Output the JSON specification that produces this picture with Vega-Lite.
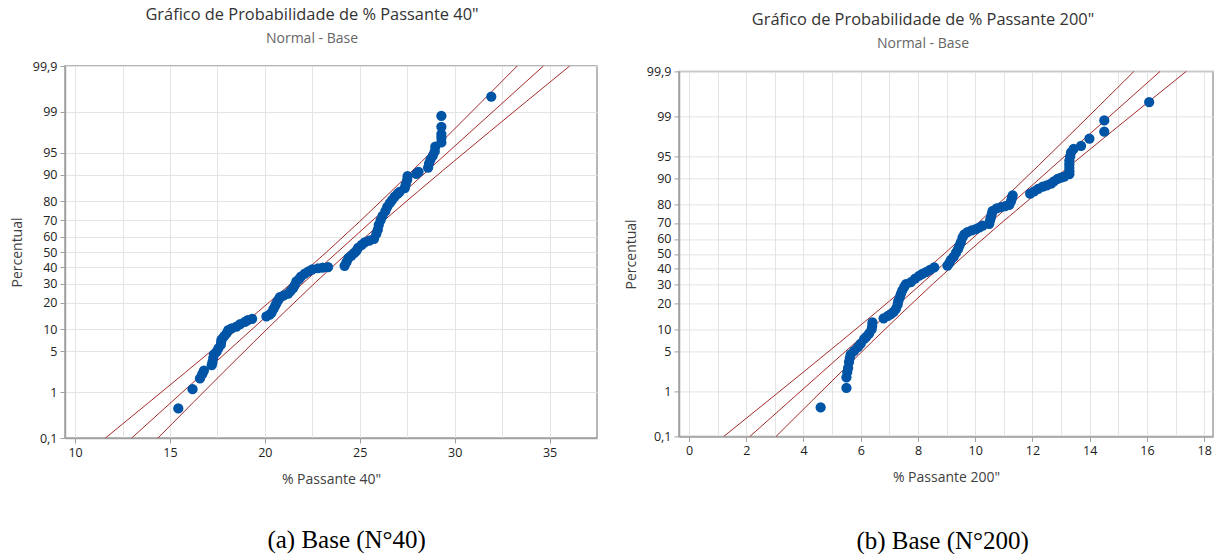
{
  "$schema": "https://vega.github.io/schema/vega-lite/v6.json",
  "background": "white",
  "padding": {"left": 9, "top": 0, "right": 0, "bottom": 0},
  "spacing": 25,
  "config": {
    "view": {"stroke": "#a0a0a0", "strokeWidth": 1.5},
    "font": "Open Sans",
    "title": {"font": "Open Sans", "fontSize": 16.4, "fontWeight": "normal", "color": "#333333", "subtitleFont": "Open Sans", "subtitleFontSize": 14, "subtitleColor": "#666666", "subtitlePadding": 9, "offset": 14},
    "axis": {"gridColor": "#e4e4e4", "gridWidth": 1, "domainColor": "#a0a0a0", "domainWidth": 1.5, "tickColor": "#a0a0a0", "tickSize": 5, "labelPadding": 3, "labelFont": "Open Sans", "labelFontSize": 12.5, "labelColor": "#222222", "titleFont": "Open Sans", "titleFontSize": 14, "titleFontWeight": "normal", "titleColor": "#404040", "labelOverlap": false, "labelSeparation": 0, "labelFlush": false, "labelBound": false},
    "axisY": {"labelOverlap": false},
    "axisQuantitative": {"labelOverlap": false}
  },
  "datasets": {
    "left_pts": [
      {"x": 15.44, "z": -2.6}, {"x": 16.19, "z": -2.28}, {"x": 16.58, "z": -2.1}, {"x": 16.7, "z": -2.03}, {"x": 16.79, "z": -1.97},
      {"x": 17.2, "z": -1.88}, {"x": 17.24, "z": -1.83}, {"x": 17.28, "z": -1.76}, {"x": 17.32, "z": -1.7}, {"x": 17.45, "z": -1.66},
      {"x": 17.55, "z": -1.6}, {"x": 17.68, "z": -1.54}, {"x": 17.7, "z": -1.49}, {"x": 17.72, "z": -1.45}, {"x": 17.85, "z": -1.4},
      {"x": 17.98, "z": -1.35}, {"x": 18.07, "z": -1.3}, {"x": 18.25, "z": -1.27}, {"x": 18.5, "z": -1.24}, {"x": 18.7, "z": -1.2},
      {"x": 18.95, "z": -1.16}, {"x": 19.1, "z": -1.13}, {"x": 19.33, "z": -1.11}, {"x": 20.08, "z": -1.07}, {"x": 20.25, "z": -1.04},
      {"x": 20.35, "z": -1.01}, {"x": 20.45, "z": -0.95}, {"x": 20.55, "z": -0.89}, {"x": 20.61, "z": -0.85}, {"x": 20.7, "z": -0.8},
      {"x": 20.79, "z": -0.75}, {"x": 21.0, "z": -0.72}, {"x": 21.23, "z": -0.69}, {"x": 21.35, "z": -0.65}, {"x": 21.49, "z": -0.6},
      {"x": 21.58, "z": -0.55}, {"x": 21.66, "z": -0.49}, {"x": 21.8, "z": -0.45}, {"x": 21.9, "z": -0.41}, {"x": 22.1, "z": -0.36},
      {"x": 22.3, "z": -0.32}, {"x": 22.5, "z": -0.29}, {"x": 22.8, "z": -0.27}, {"x": 23.05, "z": -0.26}, {"x": 23.33, "z": -0.25},
      {"x": 24.2, "z": -0.23}, {"x": 24.3, "z": -0.17}, {"x": 24.4, "z": -0.1}, {"x": 24.56, "z": -0.06}, {"x": 24.7, "z": -0.02},
      {"x": 24.82, "z": 0.02}, {"x": 24.91, "z": 0.07}, {"x": 25.1, "z": 0.12}, {"x": 25.26, "z": 0.16}, {"x": 25.5, "z": 0.19},
      {"x": 25.75, "z": 0.22}, {"x": 25.87, "z": 0.3}, {"x": 25.95, "z": 0.37}, {"x": 26.0, "z": 0.45}, {"x": 26.1, "z": 0.53},
      {"x": 26.2, "z": 0.6}, {"x": 26.35, "z": 0.68}, {"x": 26.45, "z": 0.75}, {"x": 26.58, "z": 0.81}, {"x": 26.7, "z": 0.86},
      {"x": 26.84, "z": 0.92}, {"x": 27.0, "z": 0.97}, {"x": 27.1, "z": 1.0}, {"x": 27.37, "z": 1.06}, {"x": 27.42, "z": 1.12},
      {"x": 27.5, "z": 1.2}, {"x": 27.52, "z": 1.26}, {"x": 27.98, "z": 1.3}, {"x": 28.1, "z": 1.33}, {"x": 28.6, "z": 1.4},
      {"x": 28.65, "z": 1.47}, {"x": 28.72, "z": 1.53}, {"x": 28.85, "z": 1.6}, {"x": 28.95, "z": 1.67}, {"x": 28.98, "z": 1.75},
      {"x": 29.3, "z": 1.82}, {"x": 29.3, "z": 1.9}, {"x": 29.3, "z": 1.96}, {"x": 29.3, "z": 2.08}, {"x": 29.3, "z": 2.26},
      {"x": 31.93, "z": 2.58}
    ],
    "left_lines": [
      {"line": "lower", "x": 11.602, "z": -3.0902}, {"line": "lower", "x": 13.886, "z": -2.5}, {"line": "lower", "x": 15.813, "z": -2}, {"line": "lower", "x": 17.726, "z": -1.5}, {"line": "lower", "x": 19.615, "z": -1}, {"line": "lower", "x": 21.465, "z": -0.5}, {"line": "lower", "x": 23.255, "z": 0}, {"line": "lower", "x": 24.975, "z": 0.5}, {"line": "lower", "x": 26.635, "z": 1}, {"line": "lower", "x": 28.256, "z": 1.5}, {"line": "lower", "x": 29.853, "z": 2}, {"line": "lower", "x": 31.436, "z": 2.5}, {"line": "lower", "x": 33.294, "z": 3.0902},
      {"line": "fit", "x": 12.984, "z": -3.0902}, {"line": "fit", "x": 23.83, "z": 0}, {"line": "fit", "x": 34.676, "z": 3.0902},
      {"line": "upper", "x": 14.366, "z": -3.0902}, {"line": "upper", "x": 16.224, "z": -2.5}, {"line": "upper", "x": 17.807, "z": -2}, {"line": "upper", "x": 19.404, "z": -1.5}, {"line": "upper", "x": 21.025, "z": -1}, {"line": "upper", "x": 22.685, "z": -0.5}, {"line": "upper", "x": 24.405, "z": 0}, {"line": "upper", "x": 26.195, "z": 0.5}, {"line": "upper", "x": 28.045, "z": 1}, {"line": "upper", "x": 29.934, "z": 1.5}, {"line": "upper", "x": 31.847, "z": 2}, {"line": "upper", "x": 33.774, "z": 2.5}, {"line": "upper", "x": 36.058, "z": 3.0902}
    ],
    "right_pts": [
      {"x": 4.6, "z": -2.6}, {"x": 5.5, "z": -2.27}, {"x": 5.5, "z": -2.09}, {"x": 5.53, "z": -2.0}, {"x": 5.56, "z": -1.93},
      {"x": 5.59, "z": -1.83}, {"x": 5.62, "z": -1.76}, {"x": 5.65, "z": -1.7}, {"x": 5.77, "z": -1.64}, {"x": 5.9, "z": -1.58},
      {"x": 6.0, "z": -1.52}, {"x": 6.12, "z": -1.44}, {"x": 6.2, "z": -1.4}, {"x": 6.29, "z": -1.35}, {"x": 6.38, "z": -1.28},
      {"x": 6.4, "z": -1.22}, {"x": 6.41, "z": -1.16}, {"x": 6.8, "z": -1.09}, {"x": 6.95, "z": -1.05}, {"x": 7.05, "z": -1.02},
      {"x": 7.15, "z": -0.98}, {"x": 7.23, "z": -0.93}, {"x": 7.29, "z": -0.86}, {"x": 7.31, "z": -0.8}, {"x": 7.36, "z": -0.74},
      {"x": 7.4, "z": -0.68}, {"x": 7.45, "z": -0.62}, {"x": 7.52, "z": -0.56}, {"x": 7.58, "z": -0.51}, {"x": 7.75, "z": -0.48},
      {"x": 7.9, "z": -0.42}, {"x": 8.04, "z": -0.37}, {"x": 8.15, "z": -0.34}, {"x": 8.28, "z": -0.31}, {"x": 8.42, "z": -0.27},
      {"x": 8.57, "z": -0.23}, {"x": 9.03, "z": -0.2}, {"x": 9.1, "z": -0.15}, {"x": 9.15, "z": -0.1}, {"x": 9.25, "z": -0.05},
      {"x": 9.33, "z": 0.02}, {"x": 9.4, "z": 0.08}, {"x": 9.45, "z": 0.14}, {"x": 9.5, "z": 0.2}, {"x": 9.56, "z": 0.28},
      {"x": 9.62, "z": 0.33}, {"x": 9.73, "z": 0.37}, {"x": 9.88, "z": 0.4}, {"x": 10.02, "z": 0.42}, {"x": 10.15, "z": 0.45},
      {"x": 10.26, "z": 0.48}, {"x": 10.49, "z": 0.51}, {"x": 10.52, "z": 0.57}, {"x": 10.55, "z": 0.62}, {"x": 10.58, "z": 0.68},
      {"x": 10.61, "z": 0.73}, {"x": 10.75, "z": 0.77}, {"x": 10.9, "z": 0.79}, {"x": 11.05, "z": 0.81}, {"x": 11.19, "z": 0.83},
      {"x": 11.25, "z": 0.89}, {"x": 11.28, "z": 0.94}, {"x": 11.31, "z": 0.99}, {"x": 11.92, "z": 1.02}, {"x": 12.06, "z": 1.06},
      {"x": 12.2, "z": 1.1}, {"x": 12.36, "z": 1.14}, {"x": 12.5, "z": 1.16}, {"x": 12.65, "z": 1.19}, {"x": 12.75, "z": 1.23},
      {"x": 12.88, "z": 1.27}, {"x": 13.0, "z": 1.29}, {"x": 13.11, "z": 1.31}, {"x": 13.29, "z": 1.35}, {"x": 13.29, "z": 1.4},
      {"x": 13.29, "z": 1.46}, {"x": 13.29, "z": 1.52}, {"x": 13.29, "z": 1.58}, {"x": 13.32, "z": 1.65}, {"x": 13.35, "z": 1.72},
      {"x": 13.44, "z": 1.78}, {"x": 13.7, "z": 1.83}, {"x": 13.99, "z": 1.95}, {"x": 14.51, "z": 2.07}, {"x": 14.51, "z": 2.26},
      {"x": 16.08, "z": 2.57}
    ],
    "right_lines": [
      {"line": "lower", "x": 1.216, "z": -3.0902}, {"line": "lower", "x": 2.726, "z": -2.5}, {"line": "lower", "x": 3.999, "z": -2}, {"line": "lower", "x": 5.263, "z": -1.5}, {"line": "lower", "x": 6.511, "z": -1}, {"line": "lower", "x": 7.733, "z": -0.5}, {"line": "lower", "x": 8.915, "z": 0}, {"line": "lower", "x": 10.052, "z": 0.5}, {"line": "lower", "x": 11.149, "z": 1}, {"line": "lower", "x": 12.22, "z": 1.5}, {"line": "lower", "x": 13.275, "z": 2}, {"line": "lower", "x": 14.321, "z": 2.5}, {"line": "lower", "x": 15.548, "z": 3.0902},
      {"line": "fit", "x": 2.129, "z": -3.0902}, {"line": "fit", "x": 9.295, "z": 0}, {"line": "fit", "x": 16.461, "z": 3.0902},
      {"line": "upper", "x": 3.042, "z": -3.0902}, {"line": "upper", "x": 4.27, "z": -2.5}, {"line": "upper", "x": 5.315, "z": -2}, {"line": "upper", "x": 6.37, "z": -1.5}, {"line": "upper", "x": 7.442, "z": -1}, {"line": "upper", "x": 8.539, "z": -0.5}, {"line": "upper", "x": 9.675, "z": 0}, {"line": "upper", "x": 10.858, "z": 0.5}, {"line": "upper", "x": 12.08, "z": 1}, {"line": "upper", "x": 13.328, "z": 1.5}, {"line": "upper", "x": 14.591, "z": 2}, {"line": "upper", "x": 15.865, "z": 2.5}, {"line": "upper", "x": 17.374, "z": 3.0902}
    ]
  },
  "hconcat": [
    {
      "title": {"text": "(a) Base (N°40)", "orient": "bottom", "anchor": "middle", "font": "Liberation Serif", "fontSize": 25, "fontWeight": "normal", "color": "#000000", "offset": 41, "dx": 43},
      "spacing": -2,
      "vconcat": [
        {
          "data": {"values": [{"a": 0}]},
          "mark": {"type": "point", "opacity": 0},
          "width": 532,
          "height": 1,
          "view": {"stroke": null}
        },
        {
          "width": 532,
          "height": 372,
          "title": {"text": "Gráfico de Probabilidade de % Passante 40\"", "subtitle": "Normal - Base", "dx": -19},
          "layer": [
            {
              "data": {"name": "left_lines"},
              "mark": {"type": "line", "color": "#a52a2a", "strokeWidth": 1},
              "encoding": {
                "x": {"field": "x", "type": "quantitative", "scale": {"domain": [9.47, 37.5], "nice": false, "zero": false},
                  "axis": {"title": "% Passante 40\"", "values": [10, 12.5, 15, 17.5, 20, 22.5, 25, 27.5, 30, 32.5, 35], "labelExpr": "datum.value % 5 === 0 ? datum.label : ''", "tickOpacity": {"condition": {"test": "datum.value % 5 === 0", "value": 1}, "value": 0}, "labelOverlap": false, "titlePadding": 14}},
                "y": {"field": "z", "type": "quantitative", "scale": {"domain": [-3.0902, 3.0902], "nice": false, "zero": false},
                  "axis": {"title": "Percentual", "values": [-3.0902, -2.3263, -1.6449, -1.2816, -0.8416, -0.5244, -0.2533, 0, 0.2533, 0.5244, 0.8416, 1.2816, 1.6449, 2.3263, 3.0902], "labelExpr": "datum.value < -3 ? '0,1' : datum.value < -2 ? '1' : datum.value < -1.5 ? '5' : datum.value < -1 ? '10' : datum.value < -0.7 ? '20' : datum.value < -0.4 ? '30' : datum.value < -0.1 ? '40' : datum.value < 0.1 ? '50' : datum.value < 0.4 ? '60' : datum.value < 0.7 ? '70' : datum.value < 1 ? '80' : datum.value < 1.5 ? '90' : datum.value < 2 ? '95' : datum.value < 3 ? '99' : '99,9'", "labelOverlap": false, "titlePadding": 8}},
                "detail": {"field": "line", "type": "nominal"}
              }
            },
            {
              "data": {"name": "left_pts"},
              "mark": {"type": "circle", "size": 105, "color": "#0054a6", "opacity": 1},
              "encoding": {
                "x": {"field": "x", "type": "quantitative", "scale": {"domain": [9.47, 37.5], "nice": false, "zero": false},
                  "axis": {"title": "% Passante 40\"", "values": [10, 12.5, 15, 17.5, 20, 22.5, 25, 27.5, 30, 32.5, 35], "labelExpr": "datum.value % 5 === 0 ? datum.label : ''", "tickOpacity": {"condition": {"test": "datum.value % 5 === 0", "value": 1}, "value": 0}, "labelOverlap": false, "titlePadding": 14}},
                "y": {"field": "z", "type": "quantitative", "scale": {"domain": [-3.0902, 3.0902], "nice": false, "zero": false},
                  "axis": {"title": "Percentual", "values": [-3.0902, -2.3263, -1.6449, -1.2816, -0.8416, -0.5244, -0.2533, 0, 0.2533, 0.5244, 0.8416, 1.2816, 1.6449, 2.3263, 3.0902], "labelExpr": "datum.value < -3 ? '0,1' : datum.value < -2 ? '1' : datum.value < -1.5 ? '5' : datum.value < -1 ? '10' : datum.value < -0.7 ? '20' : datum.value < -0.4 ? '30' : datum.value < -0.1 ? '40' : datum.value < 0.1 ? '50' : datum.value < 0.4 ? '60' : datum.value < 0.7 ? '70' : datum.value < 1 ? '80' : datum.value < 1.5 ? '90' : datum.value < 2 ? '95' : datum.value < 3 ? '99' : '99,9'", "labelOverlap": false, "titlePadding": 8}}
              }
            }
          ]
        }
      ]
    },
    {
      "title": {"text": "(b) Base (N°200)", "orient": "bottom", "anchor": "middle", "font": "Liberation Serif", "fontSize": 25, "fontWeight": "normal", "color": "#000000", "offset": 43, "dx": 24},
      "spacing": 3.4,
      "vconcat": [
        {
          "data": {"values": [{"a": 0}]},
          "mark": {"type": "point", "opacity": 0},
          "width": 534,
          "height": 1,
          "view": {"stroke": null}
        },
        {
          "width": 534,
          "height": 365,
          "title": {"text": "Gráfico de Probabilidade de % Passante 200\"", "subtitle": "Normal - Base", "dx": -23},
          "layer": [
            {
              "data": {"name": "right_lines"},
              "mark": {"type": "line", "color": "#a52a2a", "strokeWidth": 1},
              "encoding": {
                "x": {"field": "x", "type": "quantitative", "scale": {"domain": [-0.35, 18.31], "nice": false, "zero": false},
                  "axis": {"title": "% Passante 200\"", "values": [0, 1, 2, 3, 4, 5, 6, 7, 8, 9, 10, 11, 12, 13, 14, 15, 16, 17, 18], "labelExpr": "datum.value % 2 === 0 ? datum.label : ''", "tickOpacity": {"condition": {"test": "datum.value % 2 === 0", "value": 1}, "value": 0}, "labelOverlap": false, "titlePadding": 14}},
                "y": {"field": "z", "type": "quantitative", "scale": {"domain": [-3.0902, 3.0902], "nice": false, "zero": false},
                  "axis": {"title": "Percentual", "values": [-3.0902, -2.3263, -1.6449, -1.2816, -0.8416, -0.5244, -0.2533, 0, 0.2533, 0.5244, 0.8416, 1.2816, 1.6449, 2.3263, 3.0902], "labelExpr": "datum.value < -3 ? '0,1' : datum.value < -2 ? '1' : datum.value < -1.5 ? '5' : datum.value < -1 ? '10' : datum.value < -0.7 ? '20' : datum.value < -0.4 ? '30' : datum.value < -0.1 ? '40' : datum.value < 0.1 ? '50' : datum.value < 0.4 ? '60' : datum.value < 0.7 ? '70' : datum.value < 1 ? '80' : datum.value < 1.5 ? '90' : datum.value < 2 ? '95' : datum.value < 3 ? '99' : '99,9'", "labelOverlap": false, "titlePadding": 8}},
                "detail": {"field": "line", "type": "nominal"}
              }
            },
            {
              "data": {"name": "right_pts"},
              "mark": {"type": "circle", "size": 105, "color": "#0054a6", "opacity": 1},
              "encoding": {
                "x": {"field": "x", "type": "quantitative", "scale": {"domain": [-0.35, 18.31], "nice": false, "zero": false},
                  "axis": {"title": "% Passante 200\"", "values": [0, 1, 2, 3, 4, 5, 6, 7, 8, 9, 10, 11, 12, 13, 14, 15, 16, 17, 18], "labelExpr": "datum.value % 2 === 0 ? datum.label : ''", "tickOpacity": {"condition": {"test": "datum.value % 2 === 0", "value": 1}, "value": 0}, "labelOverlap": false, "titlePadding": 14}},
                "y": {"field": "z", "type": "quantitative", "scale": {"domain": [-3.0902, 3.0902], "nice": false, "zero": false},
                  "axis": {"title": "Percentual", "values": [-3.0902, -2.3263, -1.6449, -1.2816, -0.8416, -0.5244, -0.2533, 0, 0.2533, 0.5244, 0.8416, 1.2816, 1.6449, 2.3263, 3.0902], "labelExpr": "datum.value < -3 ? '0,1' : datum.value < -2 ? '1' : datum.value < -1.5 ? '5' : datum.value < -1 ? '10' : datum.value < -0.7 ? '20' : datum.value < -0.4 ? '30' : datum.value < -0.1 ? '40' : datum.value < 0.1 ? '50' : datum.value < 0.4 ? '60' : datum.value < 0.7 ? '70' : datum.value < 1 ? '80' : datum.value < 1.5 ? '90' : datum.value < 2 ? '95' : datum.value < 3 ? '99' : '99,9'", "labelOverlap": false, "titlePadding": 8}}
              }
            }
          ]
        }
      ]
    }
  ]
}
